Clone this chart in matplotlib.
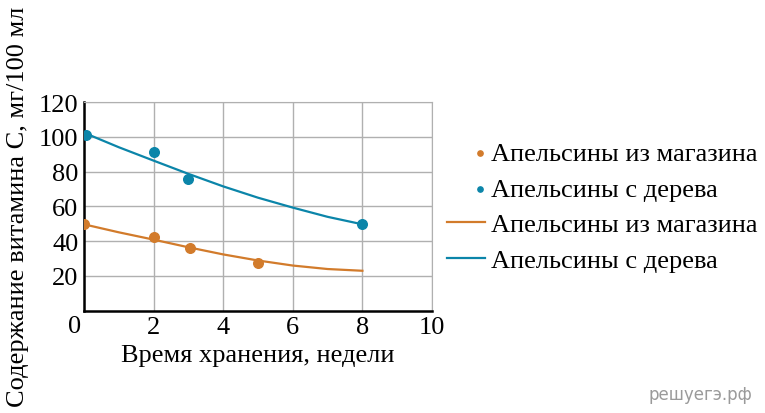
import numpy as np
import matplotlib.pyplot as plt
from matplotlib.legend_handler import HandlerPathCollection
from matplotlib.collections import PathCollection

plt.rcParams['font.family'] = ['Liberation Serif', 'DejaVu Serif']

# Точки измерений (недели, мг/100 мл)
shop_weeks = [0.0, 2.0, 3.05, 5.0]
shop_vals = [49.7, 42.4, 35.9, 27.5]
tree_weeks = [0.06, 2.0, 2.98, 8.0]
tree_vals = [101, 91, 76, 49.7]

# Линии тренда
trend_weeks = [0, 1, 2, 3, 4, 5, 6, 7, 8]
shop_trend = [49.7, 45.1, 40.9, 36.5, 32.4, 28.9, 26.0, 24.0, 23.0]
tree_trend_weeks = [0.1, 1, 2, 3, 4, 5, 6, 7, 8]
tree_trend = [101.5, 94.0, 86.3, 78.7, 71.5, 65.0, 59.3, 54.0, 49.7]

orange = "#d27b2b"
blue = "#0b85a9"
fs = 19


# точка в легенде стоит у правого края, как в оригинале
class RightDot(HandlerPathCollection):
    def get_xdata(self, legend, xdescent, ydescent, width, height, fontsize):
        xdata = np.array([-xdescent, -xdescent + width])
        xmark = np.array([-xdescent + width - 0.2 * fontsize])
        return xdata, xmark


fig = plt.figure(figsize=(7.65, 4.14), dpi=100)
ax = fig.add_axes([0.1098, 0.2469, 0.4549, 0.5043])

ax.scatter(shop_weeks, shop_vals, color=orange, s=48, zorder=5, label="Апельсины из магазина")
ax.scatter(tree_weeks, tree_vals, color=blue, s=48, zorder=5, label="Апельсины с дерева")
ax.plot(trend_weeks, shop_trend, color=orange, lw=1.6, label="Апельсины из магазина")
ax.plot(tree_trend_weeks, tree_trend, color=blue, lw=1.6, label="Апельсины с дерева")

ax.set_xlim(0, 10)
ax.set_ylim(0, 120)
ax.set_xticks([0, 2, 4, 6, 8, 10])
ax.set_xticklabels(["", "2", "4", "6", "8", "10"])
ax.set_yticks([20, 40, 60, 80, 100, 120])
ax.grid(color="#b0b0b0", lw=1.0)
ax.set_axisbelow(True)
for s in ["top", "right"]:
    ax.spines[s].set_color("#b0b0b0")
for s in ["left", "bottom"]:
    ax.spines[s].set_linewidth(1.8)
ax.tick_params(length=0, labelsize=fs, pad=4)
ax.text(-0.027, -0.02, "0", transform=ax.transAxes, fontsize=fs, ha="center", va="top")

ax.set_xlabel("Время хранения, недели", fontsize=fs, labelpad=4)
fig.text(0.024, 0.5, "Содержание витамина С, мг/100 мл", rotation=90,
         fontsize=fs, ha="center", va="center")

ax.legend(loc="upper left", bbox_to_anchor=(1.013, 0.86), frameon=False,
          fontsize=fs, handlelength=1.45, handletextpad=0.2, labelspacing=0.46,
          scatterpoints=1, markerscale=0.55, borderaxespad=0,
          handler_map={PathCollection: RightDot()})

fig.text(0.983, 0.025, "решуегэ.рф", fontsize=12, color="#9a9a9a",
         family="DejaVu Sans", ha="right", va="bottom")

fig.savefig("out.png", dpi=100)
